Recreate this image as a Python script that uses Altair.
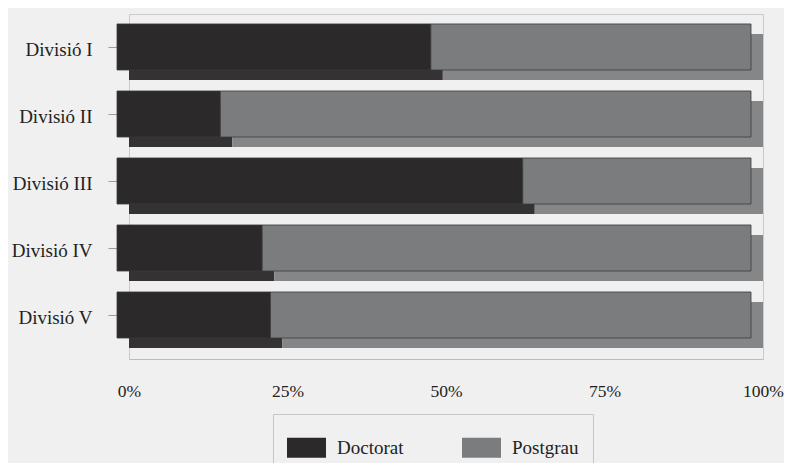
import altair as alt
import pandas as pd

divisions = ["Divisió I", "Divisió II", "Divisió III", "Divisió IV", "Divisió V"]
series = ["Doctorat", "Postgrau"]
doctorat = [49.5, 16.3, 64.0, 22.9, 24.2]
postgrau = [50.5, 83.7, 36.0, 77.1, 75.8]
tick_values = [0, 0.25, 0.5, 0.75, 1]

front_colors = ["#2c292a", "#7b7c7e"]
depth_colors = ["#353233", "#858688"]

df = pd.DataFrame({
    "division": divisions * 2,
    "serie": [series[0]] * len(divisions) + [series[1]] * len(divisions),
    "valor": doctorat + postgrau,
    "ordre": [0] * len(divisions) + [1] * len(divisions),
})

font = "Liberation Serif"

x_enc = alt.X(
    "valor:Q", stack="normalize",
    scale=alt.Scale(domain=[0, 1], nice=False),
    axis=alt.Axis(values=tick_values, format=".0%", title=None, grid=False,
                  ticks=False, labelPadding=23, labelFontSize=17.5,
                  labelFlush=False, labelFont=font, labelColor="#222222",
                  domainColor="#b9bcbb", domainWidth=1),
)
y_enc = alt.Y(
    "division:N", sort=divisions,
    scale=alt.Scale(paddingInner=0.313, paddingOuter=0.231, align=0.645),
    axis=alt.Axis(title=None, offset=12, tickOffset=-10, tickSize=9,
                  tickColor="#9a9c9c", labelPadding=16, labelOffset=3,
                  domain=False, labelFontSize=19, labelFont=font,
                  labelColor="#222222"),
)
order_enc = alt.Order("ordre:Q", sort="ascending")

base = alt.Chart(df)

back = base.mark_bar().encode(
    x=x_enc, y=y_enc, order=order_enc,
    color=alt.Color("serie:N", scale=alt.Scale(domain=series, range=depth_colors), legend=None),
)

front = base.mark_bar(
    xOffset=-12, x2Offset=-12, yOffset=-10, y2Offset=-10,
    stroke="#3a3a3a", strokeWidth=0.8,
).encode(
    x=x_enc, y=y_enc, order=order_enc,
    color=alt.Color(
        "serie:N",
        scale=alt.Scale(domain=series, range=front_colors),
        legend=alt.Legend(
            title=None, orient="none", legendX=144, legendY=400,
            direction="horizontal",
            symbolType="M-1,-0.513H1V0.513H-1Z", symbolSize=1521,
            symbolStrokeWidth=0, labelFontSize=19, labelFont=font,
            labelColor="#222222", labelOffset=11, columnPadding=58,
            padding=14, strokeColor="#c4c6c5",
            labelExpr="datum.label == 'Postgrau' ? 'Postgrau\u00a0\u00a0\u00a0\u00a0\u00a0\u00a0' : datum.label",
        ),
    ),
)

chart = alt.layer(back, front).resolve_scale(color="independent").properties(
    width=634, height=345,
    autosize=alt.AutoSizeParams(type="none"),
    padding={"left": 121, "top": 6, "right": 21, "bottom": 104},
).configure(background="#eff0ef").configure_view(stroke="#c9cbca", strokeWidth=1)

chart.save("out.html", embed_options={"renderer": "svg", "actions": False})
